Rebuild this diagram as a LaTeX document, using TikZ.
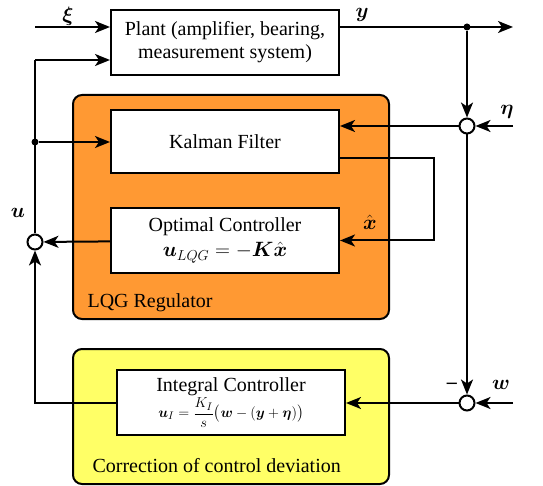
\documentclass[tikz,border=0pt]{standalone}
\usepackage{amsmath}
\usepackage{fontspec}
\setmainfont{Liberation Serif}
\usetikzlibrary{arrows.meta}

\definecolor{lqgorange}{RGB}{255,153,51}
\definecolor{corryellow}{RGB}{255,255,102}

\tikzset{
  block/.style={draw=black,fill=white,line width=2pt,minimum width=228pt,
    minimum height=64pt,inner sep=0pt,align=center},
  group/.style={draw=black,line width=2pt,rounded corners=9pt,inner sep=0pt},
  sumnode/.style={circle,draw=black,fill=white,line width=2pt,
    minimum size=15pt,inner sep=0pt},
  junction/.style={circle,fill=black,minimum size=7pt,inner sep=0pt},
  sig/.style={line width=2pt},
}

\begin{document}
\begin{tikzpicture}[>={Stealth[length=15pt,width=12pt,inset=4pt]},x=1pt,y=-1pt,font=\fontsize{20}{23}\selectfont]
                \useasboundingbox (0,0) rectangle (543,486);
                % grouping boxes
                \node[group,fill=lqgorange,minimum width=316pt,minimum height=224pt] (lqg) at (231,207) {};
                \node[group,fill=corryellow,minimum width=316pt,minimum height=135pt] (corr) at (231,416.5) {};
                \node[anchor=west] (lqglbl) at (84,303) {LQG Regulator};
                \node[anchor=west] (corrlbl) at (89,466) {Correction of control deviation};
                % blocks
                \node[block,minimum height=65pt] (plant) at (225,42.5) {Plant (amplifier, bearing,\\ measurement system)};
                \node[block,minimum height=63pt] (kalman) at (225,141.5) {Kalman Filter};
                \node[block,minimum height=65pt] (optimal) at (225,240.5) {Optimal Controller\\[2pt]
                        $\boldsymbol{u}_{LQG}=-\boldsymbol{K}\hat{\boldsymbol{x}}$};
                \node[block,minimum height=65pt] (integral) at (231,402.5) {Integral Controller\\[1pt]
                        \fontsize{15}{17}\selectfont$\boldsymbol{u}_I=\dfrac{K_I}{s}\bigl(\boldsymbol{w}-(\boldsymbol{y}+\boldsymbol{\eta})\bigr)$};
                % summing points and junctions
                \node[sumnode] (sumeta) at (467,126) {};
                \node[sumnode] (sumw) at (467,403) {};
                \node[sumnode] (sumu) at (35,242) {};
                \node[junction] (ydot) at (467,27) {};
                \node[junction] (udot) at (35,142) {};
                \coordinate (xiin) at (35,27);
                \coordinate (yout) at (513,27);
                \coordinate (etain) at (513,126);
                \coordinate (win) at (513,403);
                \coordinate (ptop) at (35,60);
                \coordinate (kturn) at (434,158);
                % signals
                \draw[sig,->] (xiin) -- (plant.west |- xiin);
                \draw[sig,->] (plant.east |- yout) -- (yout);
                \draw[sig,->] (ydot) -- (sumeta);
                \draw[sig,->] (etain) -- (sumeta);
                \draw[sig,->] (sumeta) -- (kalman.east |- sumeta);
                \draw[sig,->] (sumeta) -- (sumw);
                \draw[sig,->] (win) -- (sumw);
                \draw[sig,->] (sumw) -- (integral.east |- sumw);
                \draw[sig,->] (kalman.east |- kturn) -| (kturn |- optimal.east) -- (optimal.east);
                \draw[sig,->] (optimal) -- (sumu);
                \draw[sig,->] (integral.west) -| (sumu);
                \draw[sig] (sumu) -- (ptop);
                \draw[sig,->] (ptop) -- (plant.west |- ptop);
                \draw[sig,->] (udot) -- (kalman.west |- udot);
                % signal labels
                \node (xilbl) at (68,16) {$\boldsymbol{\xi}$};
                \node (ylbl) at (362,15) {$\boldsymbol{y}$};
                \node (etalbl) at (507,112) {$\boldsymbol{\eta}$};
                \node (xhatlbl) at (370,222) {$\hat{\boldsymbol{x}}$};
                \node (ulbl) at (18,213) {$\boldsymbol{u}$};
                \node (minuslbl) at (452,386) {\textbf{--}};
                \node (wlbl) at (501,385) {$\boldsymbol{w}$};
            \end{tikzpicture}
\end{document}
